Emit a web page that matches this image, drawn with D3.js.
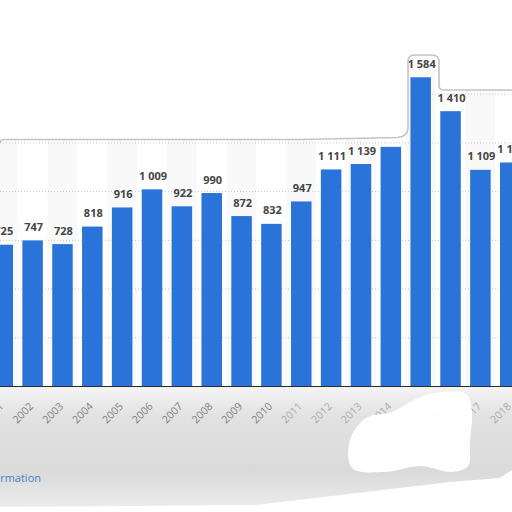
<!DOCTYPE html>
<html>
<head>
<meta charset="utf-8">
<script src="https://cdn.jsdelivr.net/npm/d3@7"></script>
<style>
  body { margin: 0; background: #fff; }
  svg { display: block; font-family: "Open Sans", sans-serif; }
</style>
</head>
<body>
<script>
// data
var years = ["2001","2002","2003","2004","2005","2006","2007","2008","2009",
             "2010","2011","2012","2013","2014","2015","2016","2017","2018"];
var values = [725, 747, 728, 818, 916, 1009, 922, 990, 872,
              832, 947, 1111, 1139, 1227, 1584, 1410, 1109, 1147];
var yTicks = [0, 250, 500, 750, 1000, 1250, 1500, 1750];

var width = 512, height = 512;
var baseY = 386;

var svg = d3.select("body").append("svg")
    .attr("width", width)
    .attr("height", height);

var x = d3.scaleBand()
    .domain(years)
    .range([-7.5, 520.5])
    .paddingInner(0.313)
    .paddingOuter(0);

var y = d3.scaleLinear()
    .domain([0, 1750])
    .range([baseY, baseY - 1750 * 0.1949]);

var fmt = function(v) {
  return d3.format(",")(v).replace(",", " ");
};

// alternating column bands (very faint)
var step = x.step();
svg.append("g")
    .selectAll("rect")
    .data(years)
    .enter().append("rect")
    .attr("x", function(d) { return x(d) - step * 0.313 / 2; })
    .attr("y", 0)
    .attr("width", step)
    .attr("height", baseY)
    .style("fill", function(d, i) { return i % 2 == 0 ? "#f9f9f9" : "#ffffff"; });

// gridlines
svg.append("g")
    .selectAll("line")
    .data(yTicks.slice(1))
    .enter().append("line")
    .attr("x1", 0)
    .attr("x2", width)
    .attr("y1", function(d) { return y(d) + 0.5; })
    .attr("y2", function(d) { return y(d) + 0.5; })
    .style("stroke", "#c8c8c8")
    .style("stroke-dasharray", "1 2");

// bars
svg.append("g")
    .selectAll("rect")
    .data(values)
    .enter().append("rect")
    .attr("x", function(d, i) { return x(years[i]); })
    .attr("y", function(d) { return y(d); })
    .attr("width", x.bandwidth())
    .attr("height", function(d) { return baseY - y(d); })
    .style("fill", "#2a74d9");

// value labels
svg.append("g")
    .selectAll("text")
    .data(values)
    .enter().append("text")
    .attr("x", function(d, i) { return x(years[i]) + x.bandwidth() / 2 + 1; })
    .attr("y", function(d) { return y(d) - 9.5; })
    .attr("text-anchor", "middle")
    .style("font-size", "11px")
    .style("font-weight", "bold")
    .style("fill", "#454545")
    .text(fmt);

// white cut-out above the panel
svg.append("path")
    .attr("d", "M0,0 H512 V90 H444 Q439,90 439,85 V62 Q439,55 432,55 H414 Q408,55 408,62 V128 Q408,136 398,137 L300,139 L3,139 Q0,139 0,142 Z")
    .style("fill", "#ffffff");

svg.append("path")
    .attr("d", "M0,143 Q0,139.5 4,139.5 L300,139.5 L398,137.5 Q408,136 408,128 V62 Q408,55 414,55 H432 Q439,55 439,62 V85 Q439,90 444,90 H512")
    .style("fill", "none")
    .style("stroke", "#c4c4c4")
    .style("stroke-width", 1.6);

// grey footer below the axis
var defs = svg.append("defs");
var grad = defs.append("linearGradient")
    .attr("id", "foot")
    .attr("x1", 0).attr("y1", 0).attr("x2", 0).attr("y2", 1);
grad.append("stop").attr("offset", "0%").attr("stop-color", "#f4f4f4");
grad.append("stop").attr("offset", "25%").attr("stop-color", "#e2e2e2");
grad.append("stop").attr("offset", "70%").attr("stop-color", "#dadada");
grad.append("stop").attr("offset", "100%").attr("stop-color", "#ececec");

svg.append("rect")
    .attr("x", 0)
    .attr("y", baseY)
    .attr("width", width)
    .attr("height", 122)
    .style("fill", "url(#foot)");

// axis line
svg.append("line")
    .attr("x1", 0).attr("x2", width)
    .attr("y1", baseY + 0.5).attr("y2", baseY + 0.5)
    .style("stroke", "#2b2b2b")
    .style("stroke-width", 1.2);

// year labels
svg.append("g")
    .selectAll("text")
    .data(years)
    .enter().append("text")
    .attr("transform", function(d) {
      return "translate(" + (x(d) + x.bandwidth() / 2 + 1.5) + "," + (baseY + 21) + ") rotate(-45)";
    })
    .attr("text-anchor", "end")
    .style("font-size", "10.5px")
    .style("fill", function(d, i) { return i < 10 ? "#808080" : "#ababab"; })
    .text(function(d) { return d; });

// white patches washing over the footer
var blob = [[352,468],[350,440],[366,418],[392,412],[418,398],[442,392],[466,394],[472,412],
            [470,440],[468,466],[452,472],[420,466],[385,472]];
svg.append("path")
    .attr("d", d3.line().curve(d3.curveCatmullRomClosed)(blob))
    .style("fill", "#ffffff")
    .style("opacity", 0.97);

svg.append("path")
    .attr("d", "M0,507 L256,505 L450,482 L500,478 L512,470 V512 H0 Z")
    .style("fill", "#ffffff");

svg.append("text")
    .attr("x", 41)
    .attr("y", 482)
    .attr("text-anchor", "end")
    .style("font-size", "11px")
    .style("fill", "#3c7fc2")
    .text("Additional Information");
</script>
</body>
</html>
